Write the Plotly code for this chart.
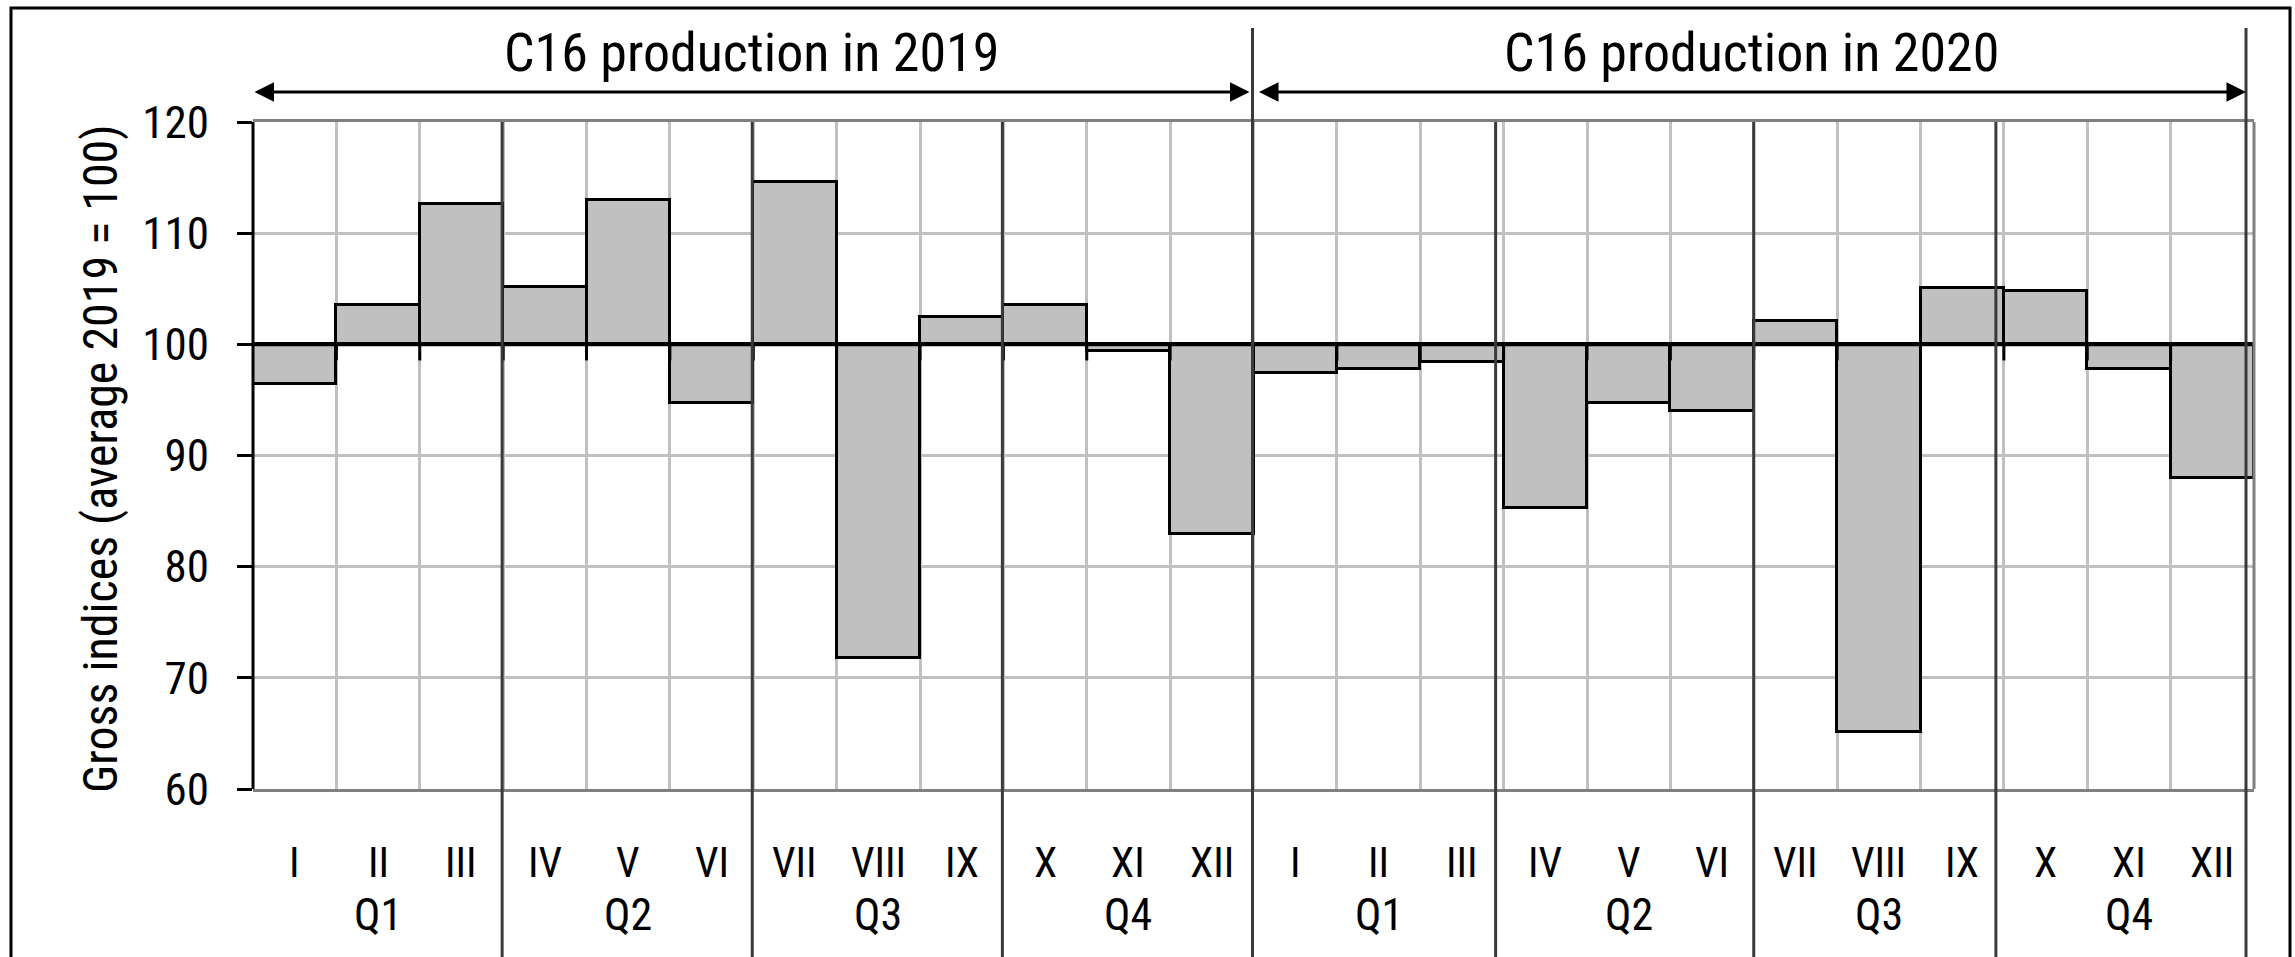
import plotly.graph_objects as go

# Monthly gross indices of C16 production (average 2019 = 100)
MONTHS = ['I', 'II', 'III', 'IV', 'V', 'VI', 'VII', 'VIII', 'IX', 'X', 'XI', 'XII']
QUARTERS = ['Q1', 'Q2', 'Q3', 'Q4']
YEARS = ['2019', '2020']
VALUES_2019 = [96.4, 103.5, 112.6, 105.2, 113.0, 94.7, 114.6, 71.8, 102.5, 103.5, 99.4, 82.9]
VALUES_2020 = [97.4, 97.8, 98.4, 85.3, 94.7, 94.0, 102.1, 65.1, 105.1, 104.8, 97.8, 88.0]
BASE = 100
Y_TICKS = [60, 70, 80, 90, 100, 110, 120]
Y_TITLE = 'Gross indices (average 2019 = 100)'
HEADER = 'C16 production in {}'

W, H = 2295, 957
L, R, T, B = 253, 41, 122, 168
FONT = 'Roboto Condensed, Liberation Sans, sans-serif'
GRID = '#c0c0c0'
SEP = '#3a3a3a'

values = VALUES_2019 + VALUES_2020
labels = MONTHS * len(YEARS)
xs = list(range(len(values)))
unit_px = (W - L - R) / len(values)


def px_x(p):
    return (p - L) / (W - L - R)


def px_y(p):
    return (H - B - p) / (H - T - B)


fig = go.Figure()
fig.add_trace(go.Bar(
    x=xs,
    y=[v - BASE for v in values],
    base=BASE,
    width=1,
    marker=dict(color='#c0c0c0', line=dict(color='black', width=3)),
    hoverinfo='skip',
    showlegend=False,
))

shapes = []
# axis line at 100 and small ticks below it
shapes.append(dict(type='line', xref='paper', yref='y', x0=0, x1=1, y0=BASE, y1=BASE,
                   line=dict(color='black', width=4), layer='above'))
for b in range(1, len(values)):
    shapes.append(dict(type='line', xref='x', yref='y', x0=b - 0.5, x1=b - 0.5,
                       y0=BASE, y1=BASE - 1.45, line=dict(color='black', width=3), layer='above'))

# plot borders
shapes.append(dict(type='line', xref='paper', yref='paper', x0=0, x1=0, y0=0, y1=1,
                   line=dict(color='black', width=3), layer='above'))
shapes.append(dict(type='line', xref='paper', yref='paper', x0=1, x1=1, y0=0, y1=1,
                   line=dict(color='#808080', width=3), layer='above'))

# year separators (tall) and quarter separators
year_nudge = [-5, -1, -8]
for i in range(len(YEARS) + 1):
    xb = i * 12 - 0.5 + year_nudge[i] / unit_px
    shapes.append(dict(type='line', xref='x', yref='paper', x0=xb, x1=xb,
                       y0=px_y(H + 5), y1=px_y(28), line=dict(color=SEP, width=3), layer='above'))
q_nudge = [-1, -1, -1, -8, 0, -8]
k = 0
for yi in range(len(YEARS)):
    for q in range(1, 4):
        xb = yi * 12 + q * 3 - 0.5 + q_nudge[k] / unit_px
        k += 1
        shapes.append(dict(type='line', xref='x', yref='paper', x0=xb, x1=xb,
                           y0=px_y(H + 5), y1=1, line=dict(color=SEP, width=3), layer='above'))

# outer frame
shapes.append(dict(type='rect', xref='paper', yref='paper', x0=px_x(11), x1=px_x(2290),
                   y0=px_y(H + 20), y1=px_y(8), line=dict(color='black', width=3),
                   fillcolor='rgba(0,0,0,0)', layer='above'))

annotations = []
for x, lab in zip(xs, labels):
    annotations.append(dict(x=x, y=px_y(863), xref='x', yref='paper', text=lab, showarrow=False,
                            font=dict(family=FONT, size=42, color='black'),
                            xanchor='center', yanchor='middle'))
for yi in range(len(YEARS)):
    for qi, qlab in enumerate(QUARTERS):
        annotations.append(dict(x=yi * 12 + qi * 3 + 1, y=px_y(915), xref='x', yref='paper',
                                text=qlab, showarrow=False,
                                font=dict(family=FONT, size=44, color='black'),
                                xanchor='center', yanchor='middle'))

starts = [-0.5, 11.5 + 4 / unit_px]
ends = [11.5 - 4 / unit_px, 23.5 - 8 / unit_px]
for yi, year in enumerate(YEARS):
    annotations.append(dict(x=(starts[yi] + ends[yi]) / 2, y=px_y(52), xref='x', yref='paper',
                            text=HEADER.format(year), showarrow=False,
                            font=dict(family=FONT, size=54, color='black'),
                            xanchor='center', yanchor='middle'))
    annotations.append(dict(x=ends[yi], y=px_y(92), xref='x', yref='paper',
                            ax=starts[yi], ay=0, axref='x', ayref='pixel',
                            text='', showarrow=True, arrowhead=2, arrowside='end+start',
                            arrowsize=1.3, arrowwidth=3, arrowcolor='black'))

annotations.append(dict(x=px_x(100), y=px_y(459), xref='paper', yref='paper', text=Y_TITLE,
                        textangle=-90, showarrow=False,
                        font=dict(family=FONT, size=48, color='black'),
                        xanchor='center', yanchor='middle'))

fig.update_layout(
    width=W, height=H,
    margin=dict(l=L, r=R, t=T, b=B, autoexpand=False),
    plot_bgcolor='white', paper_bgcolor='white',
    bargap=0,
    shapes=shapes,
    annotations=annotations,
    font=dict(family=FONT, color='black'),
    xaxis=dict(range=[-0.5, len(values) - 0.5], tick0=-0.5, dtick=1,
               showgrid=True, gridcolor=GRID, gridwidth=3,
               showticklabels=False, ticks='', zeroline=False,
               showline=True, linecolor='#808080', linewidth=3, mirror=True),
    yaxis=dict(range=[Y_TICKS[0], Y_TICKS[-1]], tickvals=Y_TICKS,
               showgrid=True, gridcolor=GRID, gridwidth=3, zeroline=False,
               showline=False, ticks='outside', ticklen=15, tickwidth=3, tickcolor='black',
               tickfont=dict(family=FONT, size=45, color='black'), ticklabelstandoff=19),
)

fig.write_html('out.html', config={'displayModeBar': False},
               post_script="document.body.style.margin = '0px';")
